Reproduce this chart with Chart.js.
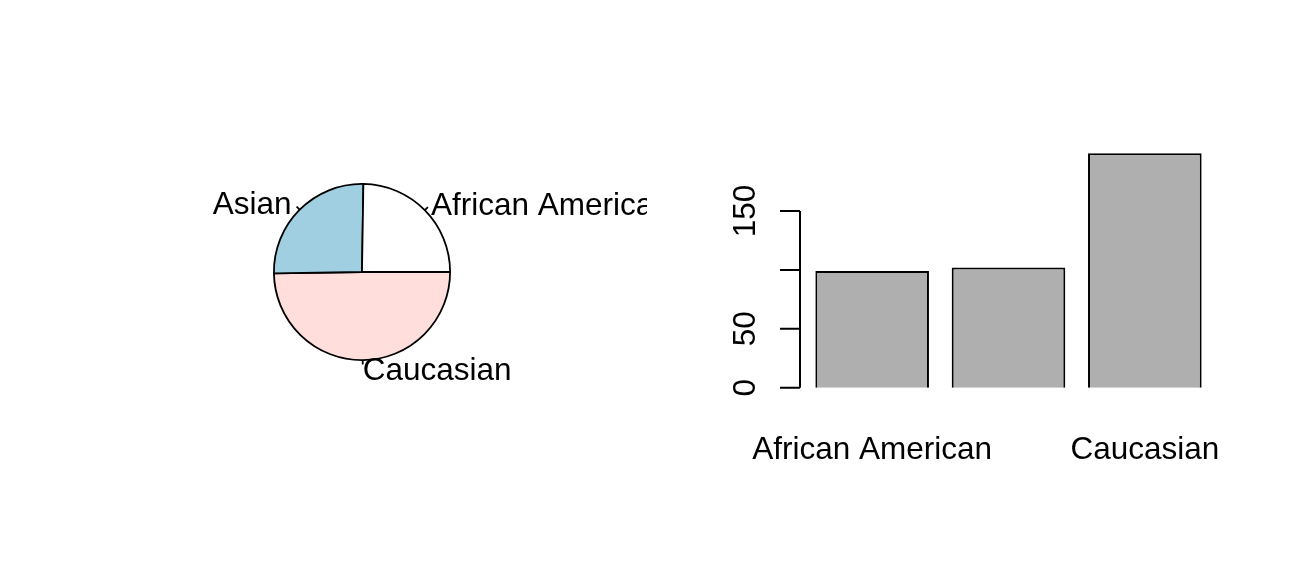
<!DOCTYPE html>
<html lang="en">
  <head>
    <meta charset="UTF-8" />
    <title>Race: pie and bar</title>
    <script src="https://cdn.jsdelivr.net/npm/chart.js"></script>
    <style>
      body { margin: 0; background: #fff; }
      #wrap { position: relative; width: 1294px; height: 582px; overflow: hidden; }
      canvas { position: absolute; top: 0; }
      #pieChart { left: 0; }
      #barChart { left: 647px; }
    </style>
  </head>
  <body>
    <div id="wrap">
      <canvas id="pieChart" width="647" height="582"></canvas>
      <canvas id="barChart" width="647" height="582"></canvas>
    </div>

    <script>
      // data (R order: counter-clockwise in the pie, left to right in the bars)
      const categories = ['African American', 'Asian', 'Caucasian'];
      const counts = [99, 102, 199];
      const pieColors = ['#FFFFFF', '#9FCFE0', '#FFDEDC'];
      const yTicks = [0, 50, 100, 150];

      const FONT = '31.5px "Liberation Sans", Arial, sans-serif';
      Chart.defaults.animation = false;
      Chart.defaults.plugins.legend.display = false;
      Chart.defaults.plugins.tooltip.enabled = false;

      // Chart.js goes clockwise, R goes counter-clockwise -> reverse
      const pieLabels = categories.slice().reverse();
      const pieData = counts.slice().reverse();
      const pieFill = pieColors.slice().reverse();

      const pieLabelPlugin = {
        id: 'pieLabels',
        afterDraw(chart) {
          const ctx = chart.ctx;
          const meta = chart.getDatasetMeta(0);
          ctx.save();
          ctx.font = FONT;
          ctx.fillStyle = '#000';
          ctx.strokeStyle = '#000';
          ctx.lineWidth = 1.8;
          ctx.textBaseline = 'alphabetic';
          meta.data.forEach((arc, i) => {
            const mid = (arc.startAngle + arc.endAngle) / 2;
            const r = arc.outerRadius;
            const cx = Math.cos(mid), cy = Math.sin(mid);
            ctx.beginPath();
            ctx.moveTo(arc.x + cx * r, arc.y + cy * r);
            ctx.lineTo(arc.x + cx * r * 1.05, arc.y + cy * r * 1.05);
            ctx.stroke();
            ctx.textAlign = cx < 0 ? 'right' : 'left';
            const dx = cx < 0 ? -2 : 0;
            ctx.fillText(chart.data.labels[i], arc.x + cx * r * 1.1 + dx, arc.y + cy * r * 1.1 + 11);
          });
          ctx.restore();
        }
      };

      new Chart(document.getElementById('pieChart'), {
        type: 'pie',
        data: {
          labels: pieLabels,
          datasets: [{
            data: pieData,
            backgroundColor: pieFill,
            borderColor: '#000',
            borderWidth: 1.8
          }]
        },
        options: {
          responsive: false,
          rotation: 90,
          layout: { padding: { left: 273, right: 196, top: 183, bottom: 221 } }
        },
        plugins: [pieLabelPlugin]
      });

      // R style axes for the bar plot (labels that would crowd are dropped)
      const barAxisPlugin = {
        id: 'rAxes',
        afterDraw(chart) {
          const ctx = chart.ctx;
          const y = chart.scales.y, x = chart.scales.x;
          const axisX = chart.chartArea.left - 4;
          ctx.save();
          ctx.strokeStyle = '#000';
          ctx.fillStyle = '#000';
          ctx.lineWidth = 2;
          ctx.beginPath();
          ctx.moveTo(axisX, y.getPixelForValue(yTicks[0]));
          ctx.lineTo(axisX, y.getPixelForValue(yTicks[yTicks.length - 1]));
          yTicks.forEach(t => {
            const py = y.getPixelForValue(t);
            ctx.moveTo(axisX - 20, py);
            ctx.lineTo(axisX, py);
          });
          ctx.stroke();

          ctx.font = FONT;
          ctx.textAlign = 'center';
          ctx.textBaseline = 'alphabetic';
          const gap = ctx.measureText('m').width;

          let lastTop = Infinity;
          yTicks.forEach(t => {
            const py = y.getPixelForValue(t);
            const w = ctx.measureText(String(t)).width;
            if (py + w / 2 > lastTop - gap) return;
            ctx.save();
            ctx.translate(axisX - 45.5, py);
            ctx.rotate(-Math.PI / 2);
            ctx.fillText(String(t), 0, 0);
            ctx.restore();
            lastTop = py - w / 2;
          });

          let lastRight = -Infinity;
          categories.forEach((c, i) => {
            const px = x.getPixelForValue(i);
            const w = ctx.measureText(c).width;
            if (px - w / 2 < lastRight + gap) return;
            ctx.fillText(c, px, 459);
            lastRight = px + w / 2;
          });
          ctx.restore();
        }
      };

      const yMax = Math.max(...counts);
      new Chart(document.getElementById('barChart'), {
        type: 'bar',
        data: {
          labels: categories,
          datasets: [{
            data: counts,
            backgroundColor: '#AFAFAF',
            borderColor: '#000',
            borderWidth: 2,
            barPercentage: 1 / 1.2,
            categoryPercentage: 1
          }]
        },
        options: {
          responsive: false,
          layout: { padding: { left: 157, right: 81, top: 144, bottom: 185 } },
          scales: {
            x: { display: false, offset: true },
            y: { display: false, min: -0.04 * yMax, max: 1.04 * yMax }
          }
        },
        plugins: [barAxisPlugin]
      });
    </script>
  </body>
</html>
